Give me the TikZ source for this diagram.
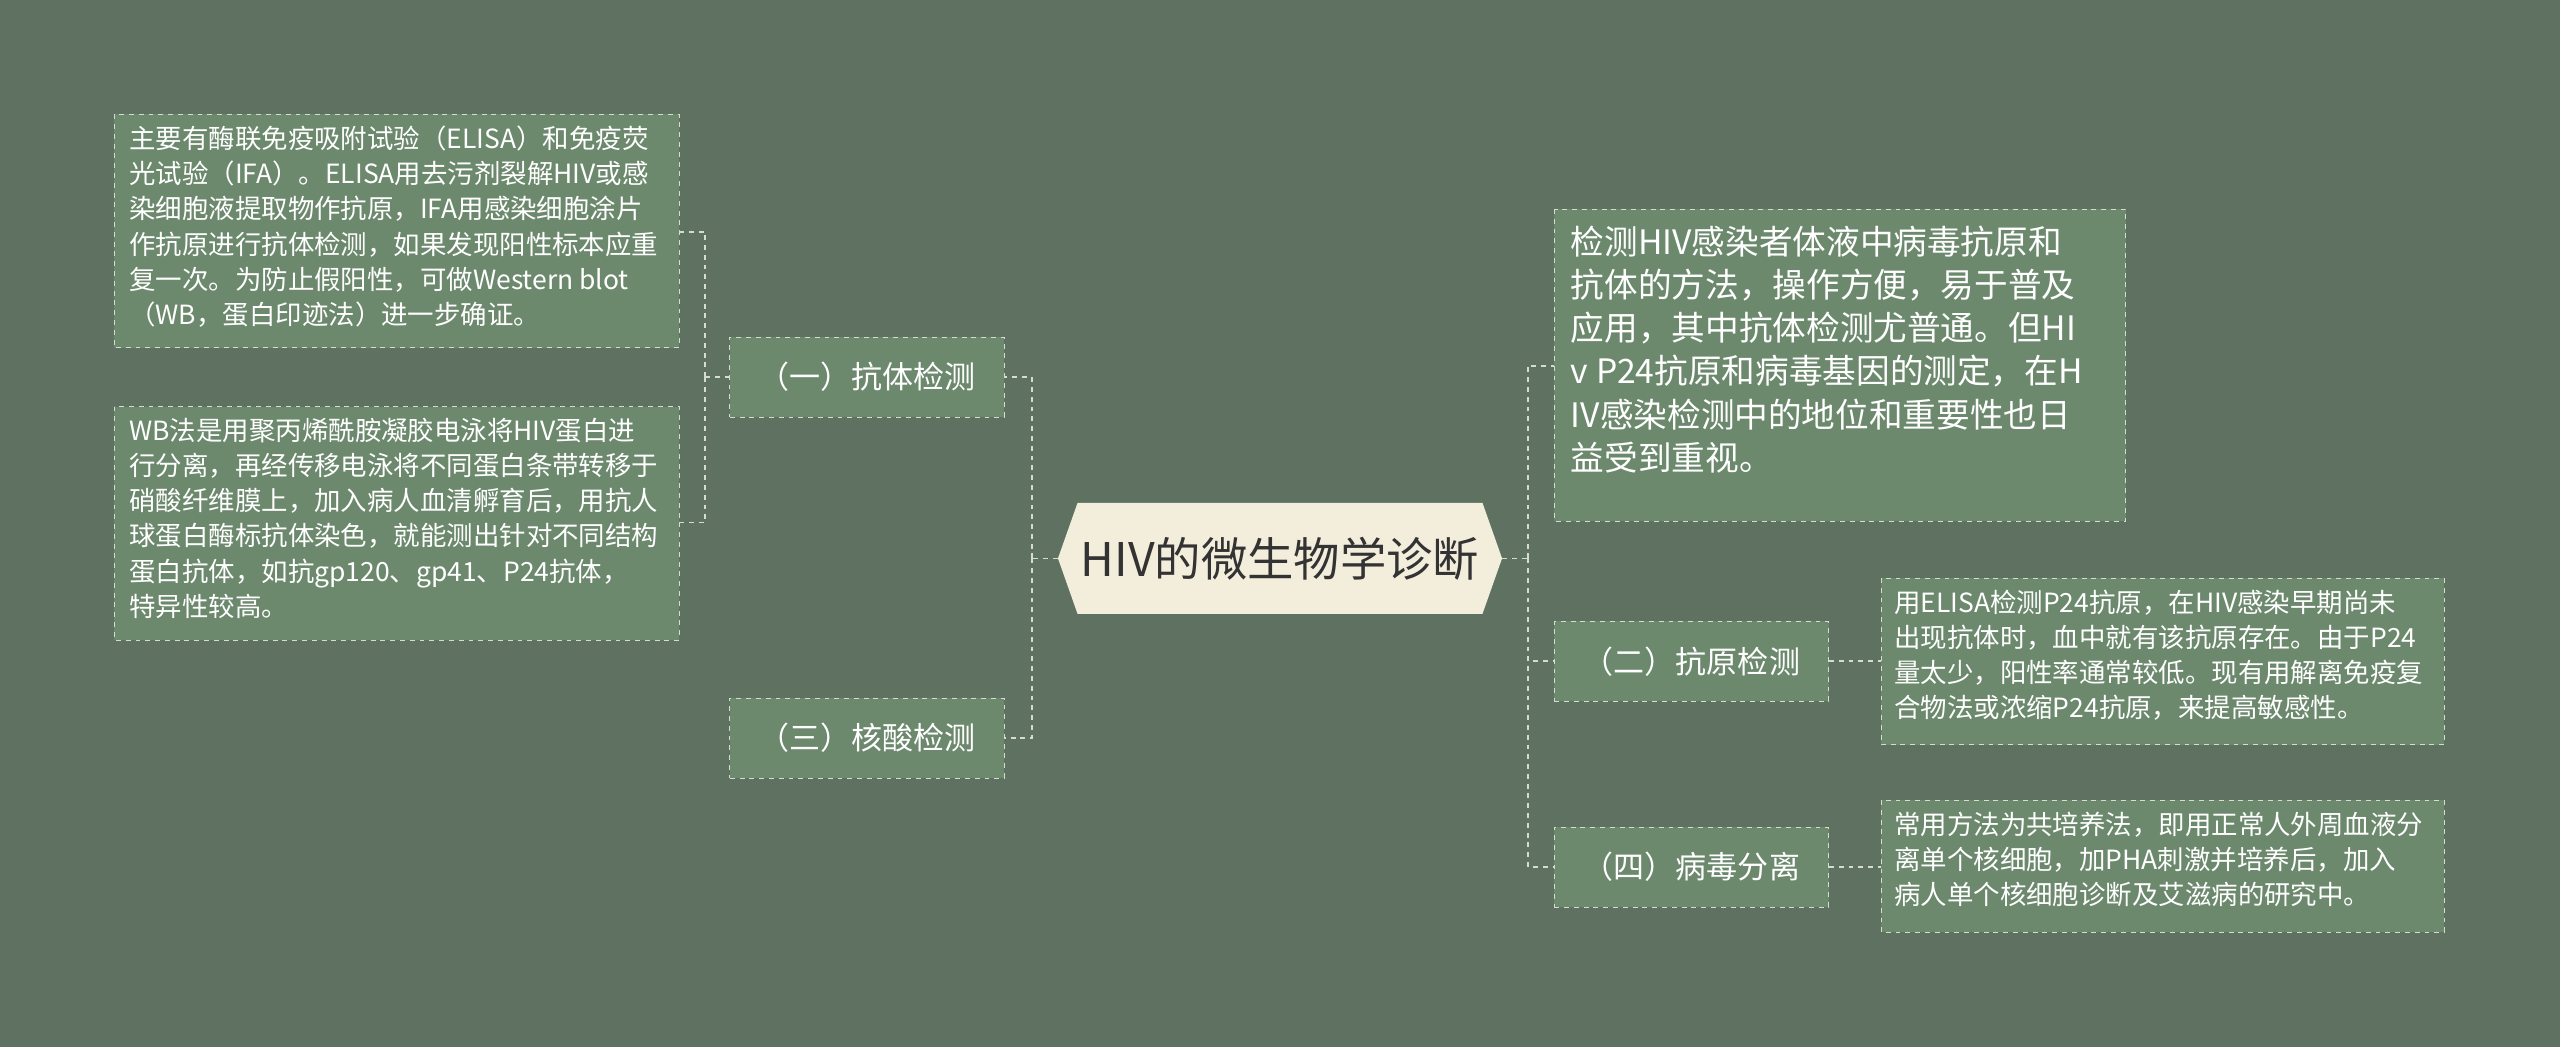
\documentclass[tikz,border=0pt]{standalone}
\usepackage{fontspec}
\setmainfont{Noto Sans CJK SC}
\definecolor{bg}{HTML}{5F7262}
\definecolor{boxf}{HTML}{6C896E}
\definecolor{ln}{HTML}{D5DDCF}
\definecolor{cf}{HTML}{F3EEDC}
\definecolor{ct}{HTML}{333333}
\tikzset{
 leaf/.style={draw=ln,dashed,fill=boxf,text=white,align=left,anchor=north west,inner sep=0pt,font=\fontsize{16.2}{21.5}\selectfont},
 br/.style={draw=ln,dashed,fill=boxf,text=white,minimum width=168pt,minimum height=49pt,inner sep=0pt,font=\fontsize{19}{24}\selectfont},
 con/.style={draw=ln,dashed,line width=1pt}
}
\begin{document}
\begin{tikzpicture}[x=1pt,y=-1pt]
\fill[bg] (0,0) rectangle (1568,641);
\useasboundingbox (0,0) rectangle (1568,641);
% center
\fill[cf] (648,342)--(660,308)--(908,308)--(920,342)--(908,376)--(660,376)--cycle;
\node[text=ct,font=\fontsize{28.4}{30}\selectfont,minimum width=272pt,minimum height=68pt,inner sep=0pt] (c) at (784,342) {HIV的微生物学诊断};
% branches
\node[br] (b1) at (531,231) {（一）抗体检测};
\node[br] (b3) at (531,452) {（三）核酸检测};
\node[br] (b2) at (1036,405) {（二）抗原检测};
\node[br] (b4) at (1036,531) {（四）病毒分离};
% leaves
\path[leaf] (70,70) rectangle (416,213);
\node[leaf,draw=none,fill=none] (l1) at (79,77) {主要有酶联免疫吸附试验（ELISA）和免疫荧\\光试验（IFA）。ELISA用去污剂裂解HIV或感\\染细胞液提取物作抗原，IFA用感染细胞涂片\\作抗原进行抗体检测，如果发现阳性标本应重\\复一次。为防止假阳性，可做Western blot\\（WB，蛋白印迹法）进一步确证。};
\path[leaf] (70,249) rectangle (416,392);
\node[leaf,draw=none,fill=none] (l2) at (79,256) {WB法是用聚丙烯酰胺凝胶电泳将HIV蛋白进\\行分离，再经传移电泳将不同蛋白条带转移于\\硝酸纤维膜上，加入病人血清孵育后，用抗人\\球蛋白酶标抗体染色，就能测出针对不同结构\\蛋白抗体，如抗gp120、gp41、P24抗体，\\特异性较高。};
\path[leaf] (952,128) rectangle (1302,319);
\node[leaf,draw=none,fill=none,font=\fontsize{20.6}{26.5}\selectfont] (r0) at (962,138) {检测HIV感染者体液中病毒抗原和\\抗体的方法，操作方便，易于普及\\应用，其中抗体检测尤普通。但HI\\v P24抗原和病毒基因的测定，在H\\IV感染检测中的地位和重要性也日\\益受到重视。};
\path[leaf] (1152,354) rectangle (1497,456);
\node[leaf,draw=none,fill=none] (r2) at (1160,361) {用ELISA检测P24抗原，在HIV感染早期尚未\\出现抗体时，血中就有该抗原存在。由于P24\\量太少，阳性率通常较低。现有用解离免疫复\\合物法或浓缩P24抗原，来提高敏感性。};
\path[leaf] (1152,490) rectangle (1497,571);
\node[leaf,draw=none,fill=none] (r4) at (1160,497) {常用方法为共培养法，即用正常人外周血液分\\离单个核细胞，加PHA刺激并培养后，加入\\病人单个核细胞诊断及艾滋病的研究中。};
% connectors
\coordinate (cl) at (632,342);
\coordinate (cr) at (936,342);
\draw[con] (c.west) -- (cl);
\draw[con] (cl) |- (b1.east);
\draw[con] (cl) |- (b3.east);
\draw[con] (c.east) -- (cr);
\draw[con] (cr) |- (952,224);
\draw[con] (cr) |- (b2.west);
\draw[con] (cr) |- (b4.west);
\coordinate (bl) at (432,231);
\draw[con] (b1.west) -- (bl);
\draw[con] (bl) |- (416,142);
\draw[con] (bl) |- (416,320);
\draw[con] (b2.east) -- (1152,405);
\draw[con] (b4.east) -- (1152,531);
\end{tikzpicture}
\end{document}
